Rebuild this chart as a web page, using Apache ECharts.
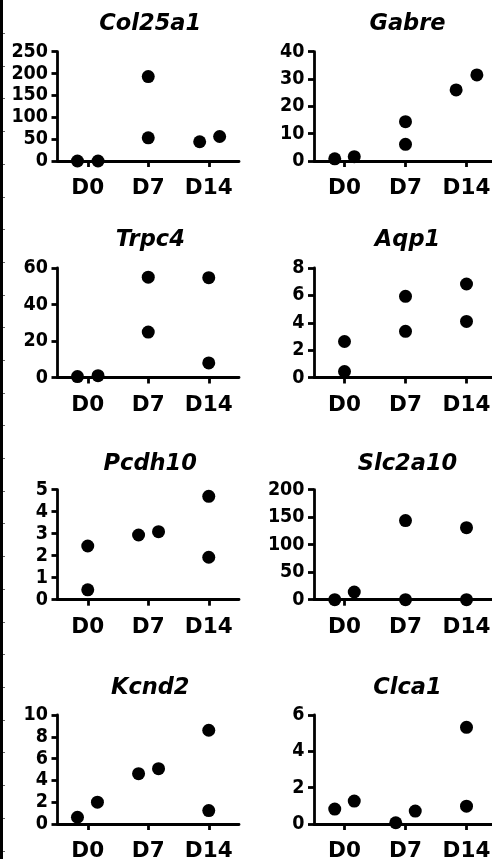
<!DOCTYPE html>
<html><head><meta charset="utf-8">
<script src="https://cdn.jsdelivr.net/npm/echarts@6/dist/echarts.min.js"></script>
<style>html,body{margin:0;padding:0;background:#fff}#c{width:492px;height:859px}</style>
</head><body><div id="c"></div>
<script>
// ---- data ----
const categories = ['D0', 'D7', 'D14'];
const genes = ['Col25a1', 'Gabre', 'Trpc4', 'Aqp1', 'Pcdh10', 'Slc2a10', 'Kcnd2', 'Clca1'];
const yMax  = [250, 40, 60, 8, 5, 200, 10, 6];
const yStep = [50, 10, 20, 2, 1, 50, 2, 2];

// values per group [D0, D7, D14], two replicates each
const col25a1 = [[0, 0], [193, 53], [44, 56]];
const gabre   = [[0.8, 1.6], [14.4, 6.1], [26.0, 31.5]];
const trpc4   = [[0.5, 1.0], [55.0, 24.9], [54.7, 8.0]];
const aqp1    = [[2.63, 0.44], [5.93, 3.37], [6.83, 4.10]];
const pcdh10  = [[2.44, 0.45], [2.94, 3.09], [4.70, 1.93]];
const slc2a10 = [[0, 14], [143.8, 0], [131, 0]];
const kcnd2   = [[0.62, 2.0], [4.62, 5.08], [8.6, 1.23]];
const clca1   = [[0.82, 1.26], [0.07, 0.71], [5.32, 0.98]];

// horizontal jitter of each replicate, in category units
const col25a1Jitter = [[-0.17, 0.17], [0, 0], [-0.15, 0.18]];
const gabreJitter   = [[-0.16, 0.16], [0, 0], [-0.17, 0.17]];
const trpc4Jitter   = [[-0.17, 0.17], [0, 0], [0, 0]];
const aqp1Jitter    = [[0, 0], [0, 0], [0, 0]];
const pcdh10Jitter  = [[0, 0], [-0.16, 0.17], [0, 0]];
const slc2a10Jitter = [[-0.16, 0.16], [0, 0], [0, 0]];
const kcnd2Jitter   = [[-0.17, 0.16], [-0.16, 0.17], [0, 0]];
const clca1Jitter   = [[-0.16, 0.16], [-0.16, 0.16], [0, 0]];

const values  = [col25a1, gabre, trpc4, aqp1, pcdh10, slc2a10, kcnd2, clca1];
const jitters = [col25a1Jitter, gabreJitter, trpc4Jitter, aqp1Jitter, pcdh10Jitter, slc2a10Jitter, kcnd2Jitter, clca1Jitter];

// ---- layout ----
const colLeft = [57.5, 314];
const colWidth = [181.5, 183];
const rowTop = [51.7, 268, 489.7, 715];
const rowZero = [161, 377.5, 599.7, 824];
const titleCenterY = [24.5, 240.5, 464, 688];

const grids = [], xAxes = [], yAxes = [], series = [], titles = [];
const lineW = 2.8;
genes.forEach((g, i) => {
  const col = i % 2, row = Math.floor(i / 2);
  grids.push({ left: colLeft[col], top: rowTop[row], width: colWidth[col], height: rowZero[row] - rowTop[row],
    containLabel: false, outerBoundsMode: 'none' });
  xAxes.push({
    gridIndex: i, type: 'category', data: categories, boundaryGap: true,
    axisLine: { show: true, onZero: false, lineStyle: { color: '#000', width: lineW } },
    axisTick: { show: true, alignWithLabel: true, length: 6, lineStyle: { color: '#000', width: lineW } },
    axisLabel: { interval: 0, hideOverlap: false, color: '#000', fontFamily: 'DejaVu Sans', fontWeight: 'bold', fontSize: 21.5, lineHeight: 22, margin: 16.5 },
    splitLine: { show: false }
  });
  xAxes.push({ gridIndex: i, type: 'value', min: -0.5, max: 2.5, show: false });
  yAxes.push({
    gridIndex: i, type: 'value', min: 0, max: yMax[i], interval: yStep[i],
    axisLine: { show: true, onZero: false, lineStyle: { color: '#000', width: lineW } },
    axisTick: { show: true, length: 6, lineStyle: { color: '#000', width: lineW } },
    axisLabel: { color: '#000', fontFamily: 'DejaVu Sans Condensed', fontWeight: 'bold', fontSize: 19.5, margin: 9.5, hideOverlap: false },
    splitLine: { show: false }
  });
  const pts = [];
  values[i].forEach((grp, gi) => grp.forEach((v, k) => pts.push([gi + jitters[i][gi][k], v])));
  series.push({
    type: 'scatter', xAxisIndex: 2 * i + 1, yAxisIndex: i, data: pts,
    symbol: 'circle', symbolSize: 13, itemStyle: { color: '#000', opacity: 1 }, clip: false, silent: true
  });
  titles.push({
    text: g, left: colLeft[col] + colWidth[col] / 2 + 2, top: titleCenterY[row] - 12,
    textAlign: 'center', padding: 0,
    textStyle: { fontFamily: 'DejaVu Sans', fontWeight: 'bold', fontStyle: 'italic', fontSize: 22.5, lineHeight: 24, color: '#000' }
  });
});

// left border line with small ticks
const graphics = [{ type: 'rect', shape: { x: 0, y: 0, width: 3, height: 859 }, style: { fill: '#000' } }];
for (let y = 33; y < 859; y += 32.7) {
  graphics.push({ type: 'rect', shape: { x: 3, y: Math.round(y), width: 2, height: 1 }, style: { fill: '#666' } });
}

const chart = echarts.init(document.getElementById('c'), null, { renderer: 'canvas' });
chart.setOption({
  animation: false,
  backgroundColor: '#fff',
  title: titles,
  grid: grids,
  xAxis: xAxes,
  yAxis: yAxes,
  series: series,
  graphic: graphics
});
</script>
</body></html>
